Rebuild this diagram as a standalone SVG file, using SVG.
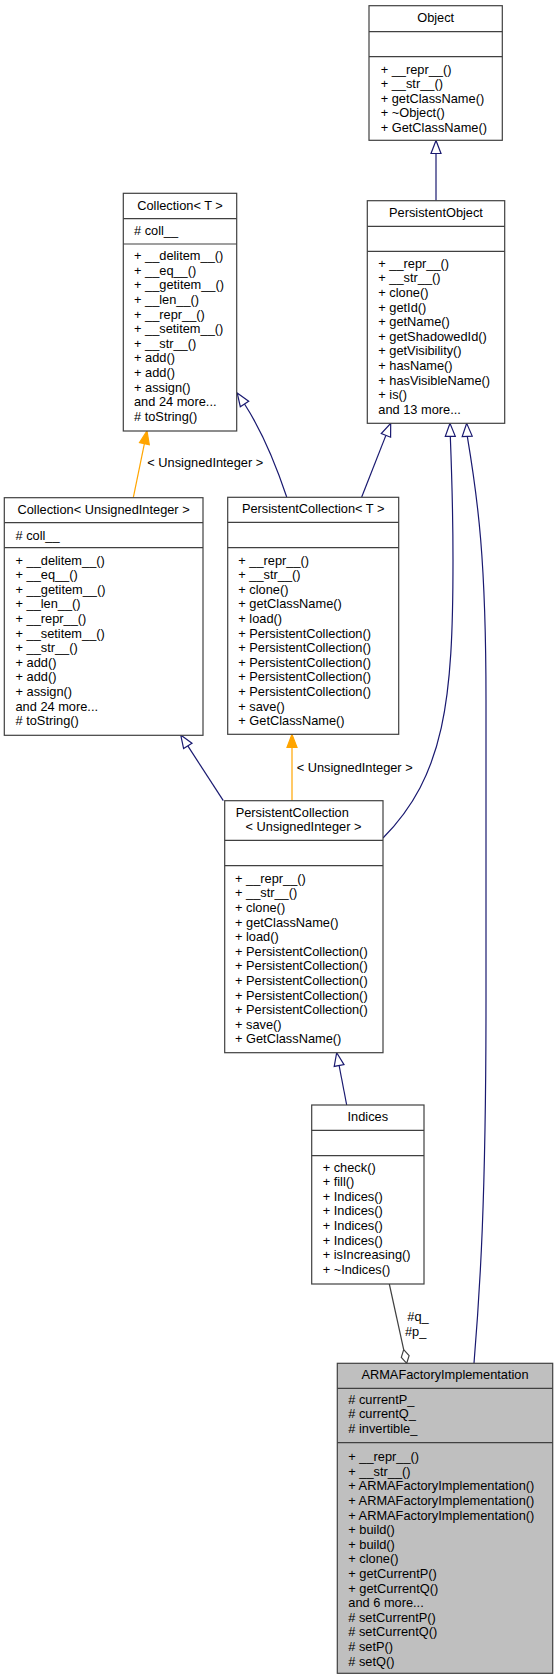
<svg xmlns="http://www.w3.org/2000/svg" width="557" height="1680" viewBox="0 0 557 1680">
<style>
.bg{fill:#ffffff}
.box{fill:#ffffff;stroke:#404040;stroke-width:1.2}
.sel{fill:#bfbfbf;stroke:#404040;stroke-width:1.2}
.sep{stroke:#404040;stroke-width:1.2}
text{font-family:"Liberation Sans",Arial,sans-serif;font-size:12.8px;fill:#000000}
.c{text-anchor:middle}
.nv{fill:none;stroke:#191970;stroke-width:1.2}
.nvh{fill:#ffffff;stroke:#191970;stroke-width:1.2}
.or{fill:none;stroke:#ffa500;stroke-width:1.2}
.orh{fill:#ffa500;stroke:#ffa500;stroke-width:1.2}
.ag{fill:none;stroke:#404040;stroke-width:1.2}
.agh{fill:#ffffff;stroke:#404040;stroke-width:1.2}
</style>
<rect class="bg" x="0" y="0" width="557" height="1680"/>
<g id="connectors">
  <!-- Object -> PersistentObject -->
  <path class="nv" d="M436,153.5 L436,200.7"/>
  <polygon class="nvh" points="436,140.5 431,153.5 441,153.5"/>
  <!-- Collection<T> -> Collection<UnsignedInteger> -->
  <path class="or" d="M133.3,497.7 L144.4,443.7"/>
  <polygon class="orh" points="147,431 149.3,444.7 139.5,442.7"/>
  <text x="147.3" y="467.2">&lt; UnsignedInteger &gt;</text>
  <!-- Collection<T> -> PersistentCollection<T> -->
  <path class="nv" d="M286.7,497 C275,462 260,428 244.5,404"/>
  <polygon class="nvh" points="237.2,393 248.7,401.3 240.3,406.7"/>
  <!-- PersistentObject -> PersistentCollection<T> -->
  <path class="nv" d="M361.7,497 L385.9,435.4"/>
  <polygon class="nvh" points="390.7,423.3 390.6,437.2 381.3,433.6"/>
  <!-- PersistentObject -> PersistentCollection<UnsignedInteger> -->
  <path class="nv" d="M450.3,436.3 C452,480 453,520 453,560 C453,700 445,775 383,838"/>
  <polygon class="nvh" points="450,423.3 445.3,436.3 455.3,436.3"/>
  <!-- PersistentObject -> ARMAFactoryImplementation -->
  <path class="nv" d="M467.3,436.3 C478,500 486,560 486,700 L486,1000 C486,1200 480,1290 474,1363.3"/>
  <polygon class="nvh" points="466.7,423.3 462.2,436.5 472.2,436.1"/>
  <!-- PersistentCollection<T> -> PersistentCollection<UnsignedInteger> -->
  <path class="or" d="M292,747.3 L292,800.7"/>
  <polygon class="orh" points="292,734.3 287,747.3 297,747.3"/>
  <text x="296.7" y="771.8">&lt; UnsignedInteger &gt;</text>
  <!-- Collection<UnsignedInteger> -> PersistentCollection<UnsignedInteger> -->
  <path class="nv" d="M223.3,800.7 L187.8,745.9"/>
  <polygon class="nvh" points="180.7,735 192,743.2 183.6,748.6"/>
  <!-- PersistentCollection<UnsignedInteger> -> Indices -->
  <path class="nv" d="M346.7,1105 L339.1,1065.5"/>
  <polygon class="nvh" points="336.7,1052.7 344,1064.6 334.2,1066.4"/>
  <!-- Indices -> ARMAFactoryImplementation (aggregation) -->
  <path class="ag" d="M389.3,1284 L403.7,1349.6"/>
  <polygon class="agh" points="406.7,1363.3 409.1,1355.6 403.7,1349.6 401.3,1357.4"/>
  <text x="407.3" y="1320.5">#q_</text>
  <text x="405" y="1336.2">#p_</text>
</g>

<g id="node-Object">
  <rect class="box" x="369" y="5.7" width="133.3" height="134.6"/>
  <line class="sep" x1="369" y1="31.7" x2="502.3" y2="31.7"/>
  <line class="sep" x1="369" y1="56.7" x2="502.3" y2="56.7"/>
  <text class="c" x="435.7" y="22">Object</text>
  <text x="380.7" y="73.5">+ __repr__()</text>
  <text x="380.7" y="88.1">+ __str__()</text>
  <text x="380.7" y="102.7">+ getClassName()</text>
  <text x="380.7" y="117.3">+ ~Object()</text>
  <text x="380.7" y="131.9">+ GetClassName()</text>
</g>

<g id="node-PersistentObject">
  <rect class="box" x="367.3" y="200.7" width="137.4" height="222.6"/>
  <line class="sep" x1="367.3" y1="226.3" x2="504.7" y2="226.3"/>
  <line class="sep" x1="367.3" y1="251.3" x2="504.7" y2="251.3"/>
  <text class="c" x="436" y="217">PersistentObject</text>
  <text x="378.3" y="267.8">+ __repr__()</text>
  <text x="378.3" y="282.4">+ __str__()</text>
  <text x="378.3" y="297">+ clone()</text>
  <text x="378.3" y="311.6">+ getId()</text>
  <text x="378.3" y="326.2">+ getName()</text>
  <text x="378.3" y="340.8">+ getShadowedId()</text>
  <text x="378.3" y="355.4">+ getVisibility()</text>
  <text x="378.3" y="370">+ hasName()</text>
  <text x="378.3" y="384.6">+ hasVisibleName()</text>
  <text x="378.3" y="399.2">+ is()</text>
  <text x="378.3" y="413.8">and 13 more...</text>
</g>

<g id="node-CollectionT">
  <rect class="box" x="123.3" y="193.3" width="113.4" height="237.7"/>
  <line class="sep" x1="123.3" y1="218.7" x2="236.7" y2="218.7"/>
  <line class="sep" x1="123.3" y1="244" x2="236.7" y2="244"/>
  <text class="c" x="180" y="209.5">Collection&lt; T &gt;</text>
  <text x="134" y="235">#&#160;coll__</text>
  <text x="134" y="260.2">+ __delitem__()</text>
  <text x="134" y="274.8">+ __eq__()</text>
  <text x="134" y="289.4">+ __getitem__()</text>
  <text x="134" y="304">+ __len__()</text>
  <text x="134" y="318.6">+ __repr__()</text>
  <text x="134" y="333.2">+ __setitem__()</text>
  <text x="134" y="347.8">+ __str__()</text>
  <text x="134" y="362.4">+ add()</text>
  <text x="134" y="377">+ add()</text>
  <text x="134" y="391.6">+ assign()</text>
  <text x="134" y="406.2">and 24 more...</text>
  <text x="134" y="420.8"># toString()</text>
</g>

<g id="node-CollectionUI">
  <rect class="box" x="4.3" y="497.7" width="198.7" height="237.6"/>
  <line class="sep" x1="4.3" y1="522.7" x2="203" y2="522.7"/>
  <line class="sep" x1="4.3" y1="547.7" x2="203" y2="547.7"/>
  <text class="c" x="103.6" y="513.7">Collection&lt; UnsignedInteger &gt;</text>
  <text x="15.5" y="539.5">#&#160;coll__</text>
  <text x="15.5" y="564.5">+ __delitem__()</text>
  <text x="15.5" y="579.1">+ __eq__()</text>
  <text x="15.5" y="593.7">+ __getitem__()</text>
  <text x="15.5" y="608.3">+ __len__()</text>
  <text x="15.5" y="622.9">+ __repr__()</text>
  <text x="15.5" y="637.5">+ __setitem__()</text>
  <text x="15.5" y="652.1">+ __str__()</text>
  <text x="15.5" y="666.7">+ add()</text>
  <text x="15.5" y="681.3">+ add()</text>
  <text x="15.5" y="695.9">+ assign()</text>
  <text x="15.5" y="710.5">and 24 more...</text>
  <text x="15.5" y="725.1"># toString()</text>
</g>

<g id="node-PersistentCollectionT">
  <rect class="box" x="227.7" y="497.3" width="171" height="237"/>
  <line class="sep" x1="227.7" y1="522.3" x2="398.7" y2="522.3"/>
  <line class="sep" x1="227.7" y1="547.7" x2="398.7" y2="547.7"/>
  <text class="c" x="313.2" y="513.3">PersistentCollection&lt; T &gt;</text>
  <text x="238.3" y="564.5">+ __repr__()</text>
  <text x="238.3" y="579.1">+ __str__()</text>
  <text x="238.3" y="593.7">+ clone()</text>
  <text x="238.3" y="608.3">+ getClassName()</text>
  <text x="238.3" y="622.9">+ load()</text>
  <text x="238.3" y="637.5">+ PersistentCollection()</text>
  <text x="238.3" y="652.1">+ PersistentCollection()</text>
  <text x="238.3" y="666.7">+ PersistentCollection()</text>
  <text x="238.3" y="681.3">+ PersistentCollection()</text>
  <text x="238.3" y="695.9">+ PersistentCollection()</text>
  <text x="238.3" y="710.5">+ save()</text>
  <text x="238.3" y="725.1">+ GetClassName()</text>
</g>

<g id="node-PersistentCollectionUI">
  <rect class="box" x="224.7" y="800.7" width="158.3" height="252"/>
  <line class="sep" x1="224.7" y1="840.3" x2="383" y2="840.3"/>
  <line class="sep" x1="224.7" y1="865.7" x2="383" y2="865.7"/>
  <text x="235.7" y="817.2">PersistentCollection</text>
  <text class="c" x="303.5" y="831.2">&lt; UnsignedInteger &gt;</text>
  <text x="235" y="882.8">+ __repr__()</text>
  <text x="235" y="897.4">+ __str__()</text>
  <text x="235" y="912">+ clone()</text>
  <text x="235" y="926.6">+ getClassName()</text>
  <text x="235" y="941.2">+ load()</text>
  <text x="235" y="955.8">+ PersistentCollection()</text>
  <text x="235" y="970.4">+ PersistentCollection()</text>
  <text x="235" y="985">+ PersistentCollection()</text>
  <text x="235" y="999.6">+ PersistentCollection()</text>
  <text x="235" y="1014.2">+ PersistentCollection()</text>
  <text x="235" y="1028.8">+ save()</text>
  <text x="235" y="1043.4">+ GetClassName()</text>
</g>

<g id="node-Indices">
  <rect class="box" x="311.7" y="1105" width="112.3" height="179"/>
  <line class="sep" x1="311.7" y1="1130.3" x2="424" y2="1130.3"/>
  <line class="sep" x1="311.7" y1="1155.7" x2="424" y2="1155.7"/>
  <text class="c" x="367.8" y="1121.2">Indices</text>
  <text x="322.7" y="1171.5">+ check()</text>
  <text x="322.7" y="1186.1">+ fill()</text>
  <text x="322.7" y="1200.7">+ Indices()</text>
  <text x="322.7" y="1215.3">+ Indices()</text>
  <text x="322.7" y="1229.9">+ Indices()</text>
  <text x="322.7" y="1244.5">+ Indices()</text>
  <text x="322.7" y="1259.1">+ isIncreasing()</text>
  <text x="322.7" y="1273.7">+ ~Indices()</text>
</g>

<g id="node-ARMAFactoryImplementation">
  <rect class="sel" x="337.3" y="1363.3" width="215.4" height="310"/>
  <line class="sep" x1="337.3" y1="1388.3" x2="552.7" y2="1388.3"/>
  <line class="sep" x1="337.3" y1="1442.7" x2="552.7" y2="1442.7"/>
  <text class="c" x="445" y="1379.3">ARMAFactoryImplementation</text>
  <text x="348.3" y="1403.8">#&#160;currentP_</text>
  <text x="348.3" y="1418.4">#&#160;currentQ_</text>
  <text x="348.3" y="1433">#&#160;invertible_</text>
  <text x="348.3" y="1461.2">+ __repr__()</text>
  <text x="348.3" y="1475.8">+ __str__()</text>
  <text x="348.3" y="1490.4">+ ARMAFactoryImplementation()</text>
  <text x="348.3" y="1505">+ ARMAFactoryImplementation()</text>
  <text x="348.3" y="1519.6">+ ARMAFactoryImplementation()</text>
  <text x="348.3" y="1534.2">+ build()</text>
  <text x="348.3" y="1548.8">+ build()</text>
  <text x="348.3" y="1563.4">+ clone()</text>
  <text x="348.3" y="1578">+ getCurrentP()</text>
  <text x="348.3" y="1592.6">+ getCurrentQ()</text>
  <text x="348.3" y="1607.2">and 6 more...</text>
  <text x="348.3" y="1621.8"># setCurrentP()</text>
  <text x="348.3" y="1636.4"># setCurrentQ()</text>
  <text x="348.3" y="1651"># setP()</text>
  <text x="348.3" y="1665.6"># setQ()</text>
</g>
</svg>
